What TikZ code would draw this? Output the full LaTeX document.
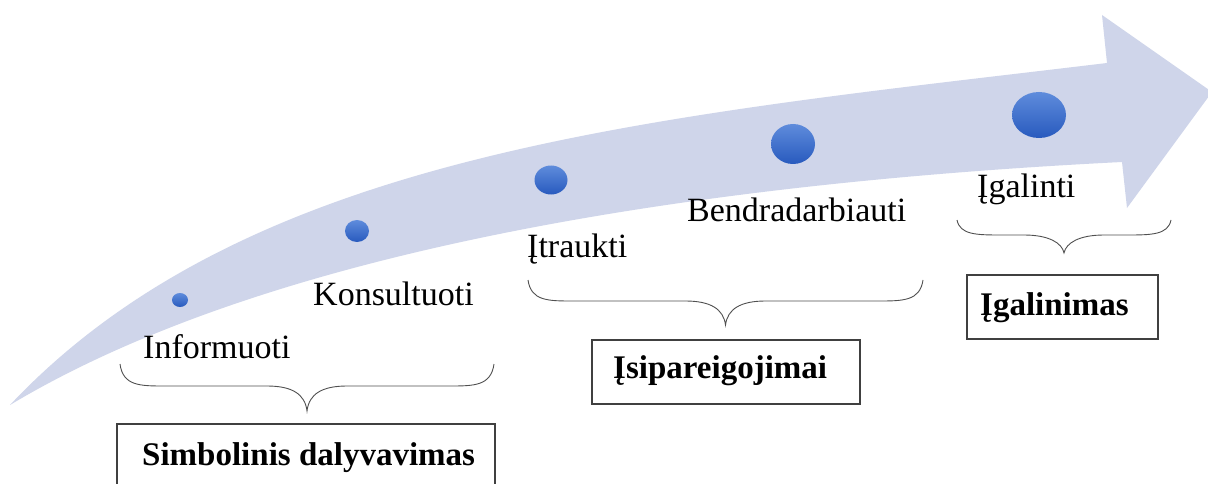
\documentclass[tikz,border=0pt]{standalone}
\usepackage{fontspec}
\setmainfont{Liberation Serif}
\usetikzlibrary{shapes.geometric}
\definecolor{bandcol}{RGB}{207,213,234}
\definecolor{dottop}{RGB}{95,140,220}
\definecolor{dotbot}{RGB}{40,90,190}
\definecolor{boxline}{RGB}{64,64,64}
\definecolor{braceline}{RGB}{80,80,80}
\newcommand{\hbrace}[5]{% left x, right x, top y, mid y, tip y
  \pgfmathsetmacro{\bm}{(#1+#2)/2}
  \draw[bracestyle] (#1,#3) .. controls (#1+3,#4) and (#1+20,#4) .. (#1+45,#4)
    -- (\bm-40,#4) .. controls (\bm-15,#4) and (\bm-2,#4+8) .. (\bm,#5)
    .. controls (\bm+2,#4+8) and (\bm+15,#4) .. (\bm+40,#4)
    -- (#2-45,#4) .. controls (#2-20,#4) and (#2-3,#4) .. (#2,#3);}
\begin{document}
\begin{tikzpicture}[x=1pt,y=-1pt,
  lbl/.style={anchor=base west,inner sep=0pt,font=\fontsize{34}{40}\selectfont},
  boxtext/.style={anchor=base west,inner sep=0pt,font=\fontsize{33}{40}\selectfont\bfseries},
  framebox/.style={draw=boxline,line width=1.4pt},
  bracestyle/.style={draw=braceline,line width=0.9pt},
  dot/.style={ellipse,inner sep=0pt,top color=dottop,bottom color=dotbot,draw=none}]
\useasboundingbox (0,0) rectangle (1208,484);
\fill[white] (0,0) rectangle (1208,484);
% curved arrow
\fill[bandcol] (10,405) .. controls (250,150) and (657,117) .. (1107,63)
  -- (1102,15) -- (1212,92) -- (1127,208) -- (1122,162)
  .. controls (672,184.5) and (260,255) .. (10,405) -- cycle;
% dots
\node[dot,minimum width=16pt,minimum height=14pt] (d1) at (180,300) {};
\node[dot,minimum width=24pt,minimum height=22pt] (d2) at (357,231) {};
\node[dot,minimum width=33pt,minimum height=29pt] (d3) at (551,180) {};
\node[dot,minimum width=44pt,minimum height=40pt] (d4) at (793,144) {};
\node[dot,minimum width=54pt,minimum height=46pt] (d5) at (1039,115) {};
% labels
\node[lbl] (informuoti) at (143,358) {Informuoti};
\node[lbl] (konsultuoti) at (313,305) {Konsultuoti};
\node[lbl] (itraukti) at (527,257) {Įtraukti};
\node[lbl] (bendr) at (687,222) {Bendradarbiauti};
\node[lbl] (igalinti) at (977,197) {Įgalinti};
% braces
\hbrace{120}{494}{364}{386}{411}
\hbrace{528}{923}{280}{301}{325}
\hbrace{957}{1171}{220}{235}{253}
% boxes
\draw[framebox] (117,424) rectangle (495,492);
\node[boxtext] (simb) at (142,465) {Simbolinis dalyvavimas};
\draw[framebox] (592,340) rectangle (860,404);
\node[boxtext] (isip) at (613,378) {Įsipareigojimai};
\draw[framebox] (967,275) rectangle (1158,339);
\node[boxtext] (igal) at (980,315) {Įgalinimas};
\end{tikzpicture}
\end{document}
